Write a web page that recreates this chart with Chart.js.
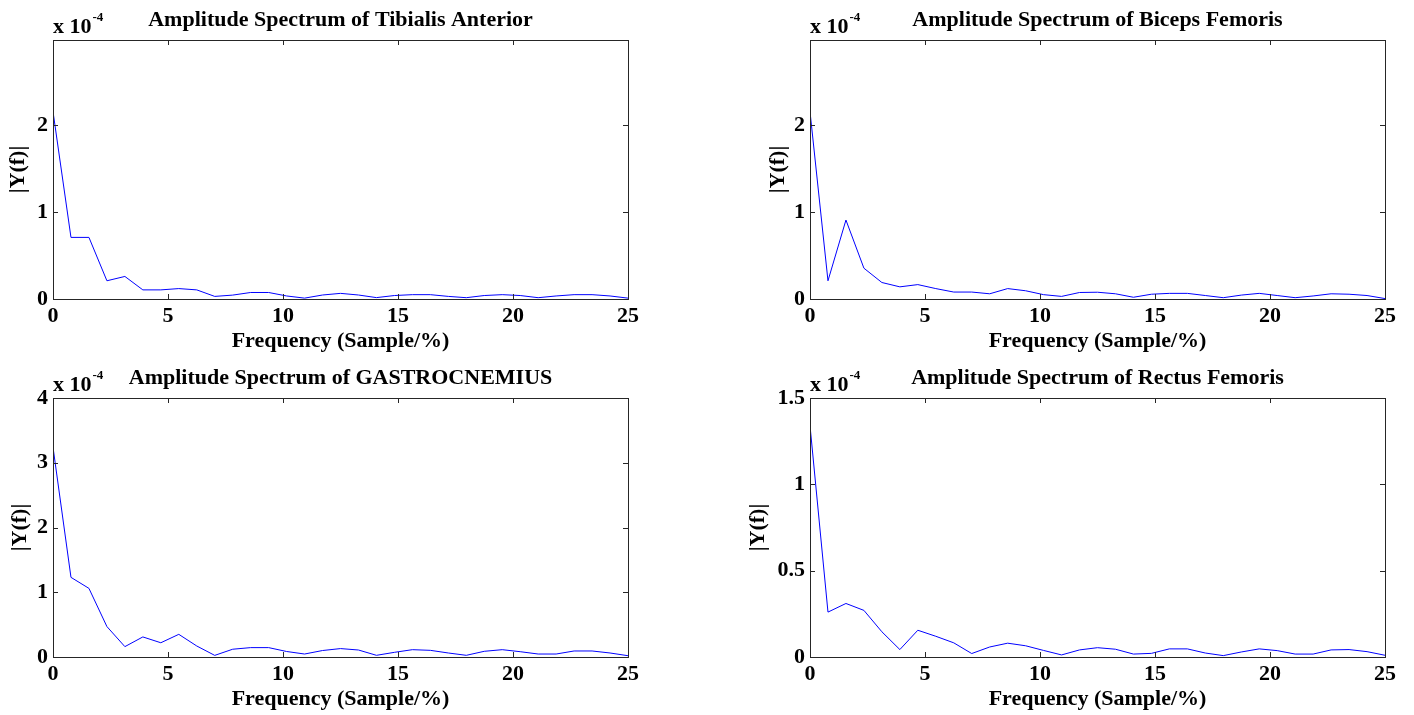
<!DOCTYPE html>
<html>
<head>
<meta charset="utf-8">
<script src="https://cdn.jsdelivr.net/npm/chart.js@4.4.1/dist/chart.umd.min.js"></script>
<style>
  html, body { margin: 0; padding: 0; background: #fff; overflow: hidden; }
  body { width: 1414px; height: 715px; position: relative; }
  .box { position: absolute; }
</style>
</head>
<body>
<div class="box" style="left:0px;top:0px;width:700px;height:358px"><canvas id="tibialis"></canvas></div>
<div class="box" style="left:760px;top:0px;width:654px;height:358px"><canvas id="biceps"></canvas></div>
<div class="box" style="left:2px;top:358px;width:698px;height:357px"><canvas id="gastro"></canvas></div>
<div class="box" style="left:740px;top:358px;width:674px;height:357px"><canvas id="rectus"></canvas></div>
<script>
// frequency bins (Sample/%)
const freq = [0, 0.78125, 1.5625, 2.34375, 3.125, 3.90625, 4.6875, 5.46875, 6.25, 7.03125,
  7.8125, 8.59375, 9.375, 10.15625, 10.9375, 11.71875, 12.5, 13.28125, 14.0625, 14.84375,
  15.625, 16.40625, 17.1875, 17.96875, 18.75, 19.53125, 20.3125, 21.09375, 21.875, 22.65625,
  23.4375, 24.21875, 25];

// |Y(f)| in units of 1e-4
const tibialis = [2.16, 0.71, 0.71, 0.21, 0.26, 0.105, 0.105, 0.12, 0.105, 0.03,
  0.045, 0.075, 0.075, 0.035, 0.01, 0.046, 0.065, 0.046, 0.016, 0.04,
  0.05, 0.05, 0.03, 0.015, 0.04, 0.05, 0.04, 0.015, 0.035, 0.05,
  0.05, 0.035, 0.01];
const biceps = [2.16, 0.21, 0.91, 0.355, 0.19, 0.14, 0.166, 0.12, 0.08, 0.08,
  0.06, 0.12, 0.095, 0.05, 0.03, 0.075, 0.078, 0.06, 0.02, 0.055,
  0.065, 0.065, 0.04, 0.015, 0.045, 0.065, 0.04, 0.015, 0.035, 0.06,
  0.055, 0.04, 0.005];
const gastro = [3.24, 1.23, 1.06, 0.47, 0.16, 0.31, 0.22, 0.35, 0.17, 0.025,
  0.12, 0.145, 0.145, 0.085, 0.046, 0.10, 0.13, 0.108, 0.026, 0.072,
  0.113, 0.103, 0.062, 0.026, 0.088, 0.113, 0.082, 0.046, 0.046, 0.093,
  0.093, 0.062, 0.02];
const rectus = [1.34, 0.26, 0.31, 0.27, 0.146, 0.043, 0.155, 0.12, 0.082, 0.02,
  0.058, 0.08, 0.065, 0.038, 0.012, 0.041, 0.054, 0.045, 0.017, 0.021,
  0.047, 0.047, 0.023, 0.008, 0.029, 0.047, 0.037, 0.017, 0.017, 0.041,
  0.043, 0.031, 0.01];

const xTicks = [0, 5, 10, 15, 20, 25];
const FONT = 'Liberation Serif, "Times New Roman", serif';
const FS = 22;

// matlab style box with inward ticks and the "x 10^-4" exponent
const matlabFrame = {
  id: 'matlabFrame',
  afterDraw(chart) {
    const { ctx, chartArea: a, scales } = chart;
    ctx.save();
    ctx.strokeStyle = '#262626';
    ctx.lineWidth = 1;
    ctx.beginPath();
    scales.x.ticks.forEach(t => {
      const px = Math.round(scales.x.getPixelForValue(t.value)) + 0.5;
      ctx.moveTo(px, a.bottom); ctx.lineTo(px, a.bottom - 5);
      ctx.moveTo(px, a.top); ctx.lineTo(px, a.top + 5);
    });
    scales.y.ticks.forEach(t => {
      const py = Math.round(scales.y.getPixelForValue(t.value)) + 0.5;
      ctx.moveTo(a.left, py); ctx.lineTo(a.left + 5, py);
      ctx.moveTo(a.right, py); ctx.lineTo(a.right - 5, py);
    });
    ctx.stroke();
    ctx.strokeRect(Math.round(a.left) + 0.5, Math.round(a.top) + 0.5,
      Math.round(a.right - a.left), Math.round(a.bottom - a.top));
    ctx.fillStyle = '#000';
    ctx.textBaseline = 'alphabetic';
    ctx.textAlign = 'left';
    ctx.font = 'bold ' + FS + 'px ' + FONT;
    ctx.fillText('x 10', a.left, 33);
    const w = ctx.measureText('x 10').width;
    ctx.font = 'bold 13px ' + FONT;
    ctx.fillText('-4', a.left + w + 1, 21);
    ctx.restore();
  }
};

function makeChart(id, title, values, yMax, yStep, yWidth, padRight, xHeight, xTitlePad) {
  return new Chart(document.getElementById(id), {
    type: 'line',
    data: {
      datasets: [{
        data: freq.map((f, i) => ({ x: f, y: values[i] })),
        borderColor: '#0000ff',
        borderWidth: 1,
        pointRadius: 0,
        tension: 0,
        fill: false
      }]
    },
    options: {
      responsive: true,
      maintainAspectRatio: false,
      animation: false,
      events: [],
      layout: { padding: { left: 0, right: padRight, top: 0, bottom: 0 } },
      plugins: {
        legend: { display: false },
        tooltip: { enabled: false },
        title: {
          display: true,
          text: title,
          fullSize: false,
          color: '#000',
          font: { family: FONT, size: FS, weight: 'bold', lineHeight: 1.2 },
          padding: { top: 6.8, bottom: 6.8 }
        }
      },
      scales: {
        x: {
          type: 'linear',
          min: 0,
          max: 25,
          grid: { display: false, drawTicks: false },
          border: { display: false },
          afterBuildTicks: s => { s.ticks = xTicks.map(v => ({ value: v })); },
          afterFit: s => { s.height = xHeight; },
          ticks: {
            color: '#000',
            padding: 4,
            maxRotation: 0,
            callback: v => String(v),
            font: { family: FONT, size: FS, weight: 'bold' }
          },
          title: {
            display: true,
            text: 'Frequency (Sample/%)',
            color: '#000',
            padding: { top: 0, bottom: xTitlePad },
            font: { family: FONT, size: FS, weight: 'bold', lineHeight: 1.2 }
          }
        },
        y: {
          min: 0,
          max: yMax,
          grid: { display: false, drawTicks: false },
          border: { display: false },
          afterBuildTicks: s => {
            s.ticks = s.ticks.filter(t => Math.abs(t.value / yStep - Math.round(t.value / yStep)) < 1e-6);
          },
          afterFit: s => { s.width = yWidth; },
          ticks: {
            stepSize: yStep,
            color: '#000',
            padding: 5,
            callback: v => String(v),
            font: { family: FONT, size: FS, weight: 'bold' }
          },
          title: {
            display: true,
            text: '|Y(f)|',
            color: '#000',
            padding: { top: 5, bottom: 0 },
            font: { family: FONT, size: FS, weight: 'bold', lineHeight: 1.2 }
          }
        }
      }
    },
    plugins: [matlabFrame]
  });
}

// chart area targets: x 53..628 and 810..1385, y 40..299 and 398..657
makeChart('tibialis', 'Amplitude Spectrum of Tibialis Anterior', tibialis, 2.985, 1, 53, 72, 59, 3.8);
makeChart('biceps', 'Amplitude Spectrum of Biceps Femoris', biceps, 2.985, 1, 50, 29, 59, 3.8);
makeChart('gastro', 'Amplitude Spectrum of GASTROCNEMIUS', gastro, 4, 1, 51, 72, 58, 2.8);
makeChart('rectus', 'Amplitude Spectrum of Rectus Femoris', rectus, 1.5, 0.5, 70, 29, 58, 2.8);
</script>
</body>
</html>
